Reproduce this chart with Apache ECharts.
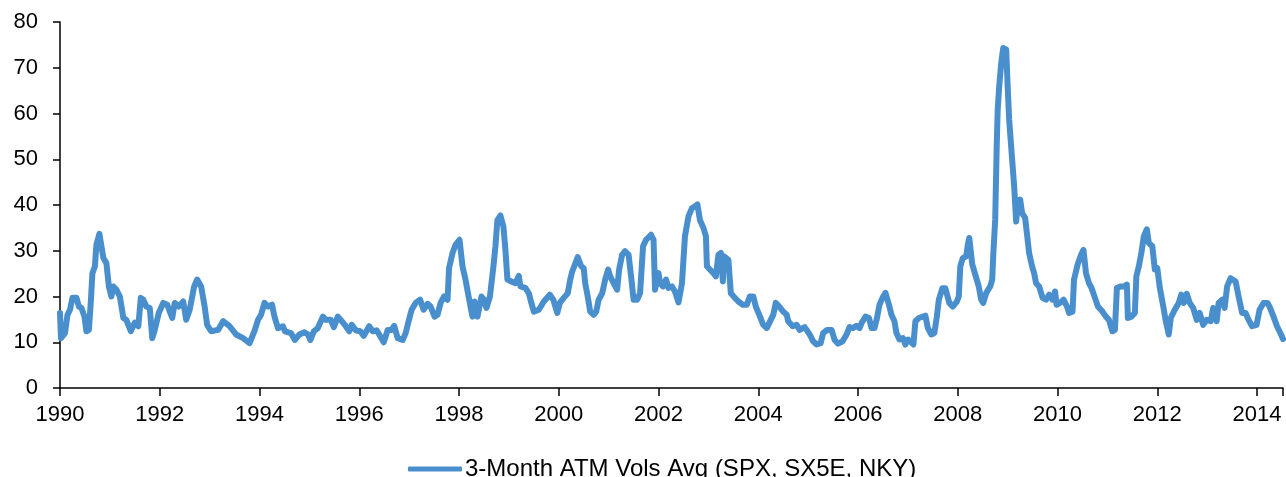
<!DOCTYPE html>
<html>
<head>
<meta charset="utf-8">
<script src="https://cdn.jsdelivr.net/npm/echarts@6/dist/echarts.min.js"></script>
<style>
  html, body { margin: 0; padding: 0; background: #fff; }
  #chart { width: 1286px; height: 477px; }
</style>
</head>
<body>
<div id="chart"></div>
<script>
// dates as fractional years
const years = [
  1990.00, 1990.02, 1990.10, 1990.15, 1990.20, 1990.25, 1990.33, 1990.38, 1990.43, 1990.49,
  1990.53, 1990.58, 1990.62, 1990.65, 1990.70, 1990.73, 1990.79, 1990.83, 1990.87, 1990.93,
  1990.98, 1991.03, 1991.07, 1991.13, 1991.20, 1991.27, 1991.33, 1991.42, 1991.50, 1991.57,
  1991.62, 1991.67, 1991.73, 1991.80, 1991.85, 1991.90, 1991.98, 1992.07, 1992.15, 1992.25,
  1992.30, 1992.38, 1992.47, 1992.53, 1992.60, 1992.69, 1992.75, 1992.83, 1992.90, 1992.95,
  1993.03, 1993.17, 1993.27, 1993.40, 1993.53, 1993.67, 1993.80, 1993.90, 1993.97, 1994.03,
  1994.10, 1994.17, 1994.25, 1994.30, 1994.37, 1994.47, 1994.51, 1994.63, 1994.71, 1994.80,
  1994.90, 1994.97, 1995.02, 1995.09, 1995.17, 1995.27, 1995.33, 1995.43, 1995.49, 1995.57,
  1995.65, 1995.73, 1995.80, 1995.85, 1995.93, 1996.02, 1996.09, 1996.20, 1996.27, 1996.35,
  1996.42, 1996.49, 1996.57, 1996.65, 1996.70, 1996.77, 1996.87, 1996.93, 1996.98, 1997.05,
  1997.13, 1997.22, 1997.29, 1997.37, 1997.43, 1997.51, 1997.57, 1997.63, 1997.70, 1997.77,
  1997.80, 1997.87, 1997.93, 1998.01, 1998.07, 1998.13, 1998.18, 1998.23, 1998.27, 1998.31,
  1998.37, 1998.40, 1998.45, 1998.50, 1998.55, 1998.62, 1998.69, 1998.73, 1998.77, 1998.83,
  1998.89, 1998.93, 1998.97, 1999.05, 1999.13, 1999.20, 1999.23, 1999.33, 1999.40, 1999.45,
  1999.50, 1999.60, 1999.70, 1999.82, 1999.89, 1999.97, 2000.02, 2000.10, 2000.18, 2000.23,
  2000.27, 2000.31, 2000.38, 2000.45, 2000.50, 2000.53, 2000.58, 2000.63, 2000.70, 2000.75,
  2000.80, 2000.87, 2000.93, 2000.99, 2001.03, 2001.10, 2001.17, 2001.21, 2001.27, 2001.33,
  2001.40, 2001.45, 2001.50, 2001.57, 2001.63, 2001.69, 2001.75, 2001.85, 2001.90, 2001.93,
  2002.00, 2002.03, 2002.09, 2002.15, 2002.20, 2002.27, 2002.33, 2002.40, 2002.47, 2002.53,
  2002.60, 2002.67, 2002.73, 2002.78, 2002.83, 2002.90, 2002.95, 2002.97, 2003.03, 2003.10,
  2003.15, 2003.20, 2003.25, 2003.29, 2003.31, 2003.40, 2003.45, 2003.53, 2003.60, 2003.69,
  2003.77, 2003.83, 2003.90, 2003.95, 2004.02, 2004.10, 2004.17, 2004.25, 2004.30, 2004.35,
  2004.42, 2004.50, 2004.57, 2004.60, 2004.69, 2004.77, 2004.83, 2004.93, 2005.03, 2005.10,
  2005.17, 2005.25, 2005.30, 2005.38, 2005.47, 2005.53, 2005.60, 2005.69, 2005.77, 2005.83,
  2005.90, 2005.97, 2006.03, 2006.07, 2006.15, 2006.22, 2006.27, 2006.33, 2006.38, 2006.43,
  2006.49, 2006.55, 2006.62, 2006.67, 2006.73, 2006.77, 2006.83, 2006.90, 2006.95, 2007.00,
  2007.05, 2007.11, 2007.15, 2007.22, 2007.30, 2007.35, 2007.40, 2007.47, 2007.53, 2007.58,
  2007.62, 2007.69, 2007.75, 2007.83, 2007.90, 2007.98, 2008.02, 2008.05, 2008.10, 2008.17,
  2008.20, 2008.23, 2008.27, 2008.29, 2008.35, 2008.42, 2008.47, 2008.51, 2008.57, 2008.65,
  2008.69, 2008.71, 2008.75, 2008.78, 2008.80, 2008.83, 2008.87, 2008.91, 2008.97, 2009.00,
  2009.03, 2009.09, 2009.13, 2009.17, 2009.20, 2009.25, 2009.29, 2009.35, 2009.40, 2009.43,
  2009.49, 2009.53, 2009.57, 2009.63, 2009.70, 2009.77, 2009.83, 2009.90, 2009.95, 2009.98,
  2010.05, 2010.12, 2010.19, 2010.23, 2010.30, 2010.33, 2010.40, 2010.47, 2010.52, 2010.57,
  2010.63, 2010.68, 2010.75, 2010.81, 2010.90, 2010.97, 2011.03, 2011.10, 2011.15, 2011.19,
  2011.27, 2011.33, 2011.39, 2011.41, 2011.48, 2011.55, 2011.58, 2011.63, 2011.68, 2011.73,
  2011.79, 2011.83, 2011.90, 2011.95, 2012.00, 2012.05, 2012.12, 2012.17, 2012.23, 2012.27,
  2012.35, 2012.43, 2012.48, 2012.53, 2012.59, 2012.65, 2012.72, 2012.79, 2012.85, 2012.92,
  2012.99, 2013.07, 2013.12, 2013.19, 2013.23, 2013.30, 2013.35, 2013.40, 2013.47, 2013.57,
  2013.63, 2013.70, 2013.77, 2013.83, 2013.90, 2013.99, 2014.05, 2014.13, 2014.21, 2014.25,
  2014.33, 2014.40, 2014.48, 2014.52
];

const vols = [
  16.4, 10.9, 12.0, 16.0, 17.1, 19.7, 19.7, 17.8, 17.5, 15.6,
  12.4, 12.7, 19.3, 25.1, 26.6, 31.3, 33.7, 31.0, 28.4, 27.3,
  22.2, 20.0, 22.2, 21.5, 20.0, 15.3, 14.9, 12.4, 14.3, 13.5,
  19.7, 19.3, 17.8, 17.5, 10.9, 12.7, 16.4, 18.6, 18.2, 15.3,
  18.6, 17.8, 18.9, 14.9, 17.1, 22.2, 23.7, 22.2, 17.8, 13.8,
  12.4, 12.7, 14.6, 13.5, 11.7, 10.9, 9.8, 12.5, 14.9, 16.0,
  18.6, 17.8, 18.2, 15.6, 13.1, 13.5, 12.4, 12.0, 10.5, 11.7,
  12.2, 11.7, 10.5, 12.4, 13.1, 15.6, 14.9, 14.9, 13.3, 15.6,
  14.6, 13.5, 12.4, 13.8, 12.6, 12.4, 11.4, 13.5, 12.4, 12.6,
  11.3, 10.0, 12.7, 12.7, 13.6, 10.9, 10.5, 12.0, 14.2, 17.1,
  18.6, 19.3, 17.1, 18.4, 17.8, 15.6, 16.0, 18.6, 20.0, 19.3,
  26.2, 29.5, 31.3, 32.4, 26.6, 23.7, 20.7, 17.8, 15.6, 18.9,
  15.6, 15.6, 20.0, 19.3, 17.5, 20.0, 26.6, 31.0, 36.7, 37.7,
  35.3, 30.2, 23.7, 23.3, 22.9, 24.5, 22.2, 21.9, 20.7, 18.6,
  16.7, 17.1, 18.9, 20.4, 19.3, 16.4, 18.6, 19.7, 20.7, 23.7,
  25.5, 26.6, 28.6, 26.6, 26.2, 22.9, 20.0, 16.7, 16.0, 16.7,
  19.3, 20.7, 23.7, 25.9, 24.4, 22.9, 21.5, 25.9, 29.1, 29.9,
  29.1, 24.4, 19.3, 19.3, 20.7, 31.0, 32.4, 33.5, 32.4, 21.5,
  25.1, 22.9, 22.2, 23.7, 21.9, 22.2, 21.1, 18.7, 22.9, 33.2,
  37.5, 39.3, 39.7, 40.1, 36.7, 35.0, 33.2, 26.6, 25.9, 25.1,
  24.4, 29.1, 29.5, 23.3, 28.8, 28.0, 20.7, 19.7, 18.9, 18.2,
  18.2, 20.0, 20.0, 17.8, 16.0, 13.8, 13.1, 14.9, 16.0, 18.6,
  17.8, 16.7, 16.0, 14.6, 13.5, 13.8, 12.7, 13.3, 11.7, 10.2,
  9.5, 9.8, 12.0, 12.7, 12.7, 10.5, 9.7, 10.2, 11.7, 13.3,
  13.1, 13.6, 13.1, 14.2, 15.6, 15.3, 13.1, 13.1, 15.3, 18.2,
  19.7, 20.8, 18.2, 16.0, 14.6, 12.0, 10.6, 10.9, 9.5, 10.6,
  10.2, 9.5, 14.6, 15.3, 15.6, 15.8, 13.1, 11.7, 12.0, 15.6,
  19.3, 21.8, 21.8, 18.6, 17.8, 18.9, 20.0, 26.6, 28.4, 28.8,
  31.3, 32.8, 32.4, 27.0, 24.8, 22.2, 19.3, 18.6, 20.8, 22.2,
  23.7, 28.8, 36.8, 52.8, 60.8, 65.9, 71.0, 74.3, 74.0, 65.9,
  58.6, 49.9, 44.1, 36.4, 39.7, 41.2, 38.2, 37.2, 32.4, 29.5,
  26.6, 25.1, 22.9, 22.2, 19.7, 19.3, 20.4, 19.3, 21.1, 18.2,
  18.6, 19.3, 17.8, 16.4, 16.7, 23.7, 26.9, 29.1, 30.2, 25.1,
  22.9, 21.9, 19.7, 17.8, 16.7, 15.6, 14.9, 12.4, 12.7, 21.9,
  22.2, 22.2, 22.6, 15.3, 15.6, 16.4, 24.4, 26.6, 29.5, 33.2,
  34.7, 31.7, 31.0, 25.9, 26.2, 21.9, 17.8, 14.6, 11.7, 15.3,
  17.1, 18.6, 20.4, 18.6, 20.6, 18.6, 17.5, 14.9, 16.4, 13.8,
  14.9, 14.6, 17.5, 14.6, 18.6, 19.3, 17.5, 22.2, 24.0, 23.3,
  20.0, 16.4, 16.4, 14.9, 13.5, 13.8, 17.1, 18.6, 18.6, 17.8,
  15.6, 13.5, 11.7, 10.7
];

const seriesName = "3-Month ATM Vols Avg (SPX, SX5E, NKY)";
const lineColor = "#4A8FCD";
const fontFamily = "'Liberation Sans', Arial, sans-serif";

const chart = echarts.init(document.getElementById("chart"));

const option = {
  animation: false,
  backgroundColor: "#fff",
  textStyle: { fontFamily: fontFamily },
  grid: {
    left: 60,
    right: 0,
    top: 22,
    bottom: 89,
    containLabel: false,
  },
  legend: {
    left: 403,
    top: 452,
    icon: "roundRect",
    itemWidth: 54,
    itemHeight: 5,
    itemGap: 10,
    itemStyle: { color: lineColor },
    textStyle: { fontSize: 24, color: "#000", fontFamily: fontFamily, padding: [0, 0, 0, -2] },
    data: [seriesName],
  },
  xAxis: {
    type: "value",
    min: 1990,
    max: 2014.52,
    interval: 2,
    axisLine: { show: true, lineStyle: { color: "#000", width: 1.5 } },
    axisTick: { show: true, length: 8, lineStyle: { color: "#000", width: 1.5 } },
    axisLabel: {
      fontSize: 22,
      color: "#000",
      margin: 16,
      formatter: (v) => (Math.abs(v - Math.round(v)) < 1e-6 && Math.round(v) % 2 === 0 ? String(Math.round(v)) : ""),
    },
    splitLine: { show: false },
  },
  yAxis: {
    type: "value",
    min: 0,
    max: 80,
    interval: 10,
    axisLine: { show: true, lineStyle: { color: "#000", width: 1.5 } },
    axisTick: { show: true, length: 7, lineStyle: { color: "#000", width: 1.5 } },
    axisLabel: { fontSize: 22, color: "#000", margin: 22 },
    splitLine: { show: false },
  },
  series: [
    {
      name: seriesName,
      type: "line",
      data: years.map((y, i) => [y, vols[i]]),
      showSymbol: false,
      symbol: "none",
      lineStyle: { color: lineColor, width: 6, join: "round", cap: "round" },
      itemStyle: { color: lineColor },
    },
  ],
};

chart.setOption(option);
</script>
</body>
</html>
